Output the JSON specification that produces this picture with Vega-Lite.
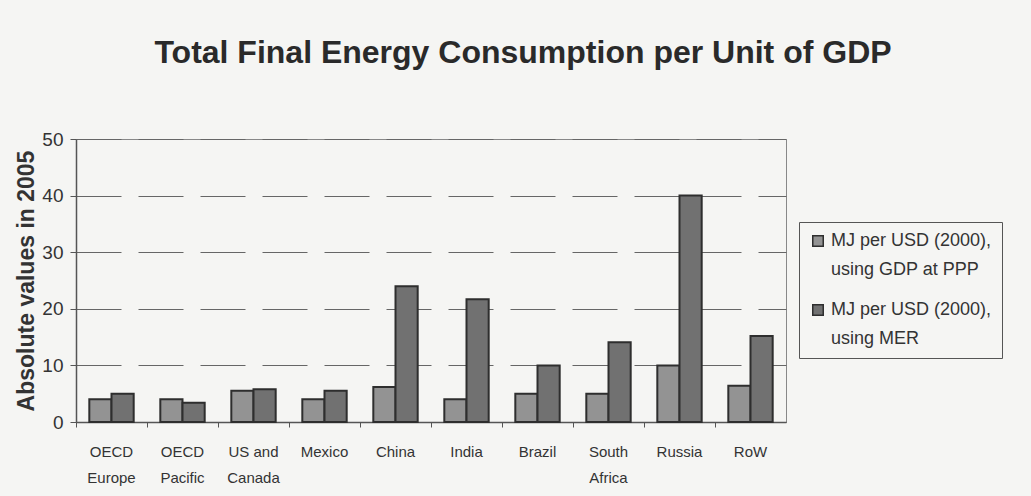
{
  "$schema": "https://vega.github.io/schema/vega-lite/v6.json",
  "autosize": "none",
  "width": 710,
  "height": 283,
  "padding": {"left": 76, "top": 139, "right": 245, "bottom": 74},
  "background": "#f5f5f3",
  "title": {
    "text": "Total Final Energy Consumption per Unit of GDP",
    "font": "Liberation Sans",
    "fontSize": 32,
    "fontWeight": "bold",
    "color": "#2a2a2a",
    "anchor": "middle",
    "frame": "group",
    "dx": 92,
    "baseline": "alphabetic",
    "offset": 35
  },
  "config": {
    "view": {"stroke": "#888", "strokeWidth": 1},
    "font": "Liberation Sans",
    "style": {"guide-label": {"lineHeight": 29}}
  },
  "data": {
    "values": [
      {"region": "OECD Europe", "series": "PPP", "value": 4.0},
      {"region": "OECD Europe", "series": "MER", "value": 5.0},
      {"region": "OECD Pacific", "series": "PPP", "value": 4.0},
      {"region": "OECD Pacific", "series": "MER", "value": 3.4},
      {"region": "US and Canada", "series": "PPP", "value": 5.5},
      {"region": "US and Canada", "series": "MER", "value": 5.8},
      {"region": "Mexico", "series": "PPP", "value": 4.0},
      {"region": "Mexico", "series": "MER", "value": 5.5},
      {"region": "China", "series": "PPP", "value": 6.2},
      {"region": "China", "series": "MER", "value": 24.0},
      {"region": "India", "series": "PPP", "value": 4.0},
      {"region": "India", "series": "MER", "value": 21.7},
      {"region": "Brazil", "series": "PPP", "value": 5.0},
      {"region": "Brazil", "series": "MER", "value": 10.0},
      {"region": "South Africa", "series": "PPP", "value": 5.0},
      {"region": "South Africa", "series": "MER", "value": 14.1},
      {"region": "Russia", "series": "PPP", "value": 10.0},
      {"region": "Russia", "series": "MER", "value": 40.0},
      {"region": "RoW", "series": "PPP", "value": 6.4},
      {"region": "RoW", "series": "MER", "value": 15.2}
    ]
  },
  "mark": {"type": "bar", "stroke": "#2e2e2e", "strokeWidth": 2},
  "encoding": {
    "x": {
      "field": "region",
      "type": "nominal",
      "sort": null,
      "scale": {"paddingInner": 0, "paddingOuter": 0},
      "axis": {
        "title": null,
        "labelAngle": 0,
        "labelFont": "Liberation Sans",
        "labelFontSize": 15,
        "labelColor": "#333",
        "labelPadding": 17,
        "labelLineHeight": 26,
        "labelExpr": "datum.label == 'OECD Europe' ? ['OECD', 'Europe'] : datum.label == 'OECD Pacific' ? ['OECD', 'Pacific'] : datum.label == 'US and Canada' ? ['US and', 'Canada'] : datum.label == 'South Africa' ? ['South', 'Africa'] : datum.label",
        "bandPosition": 0,
        "tickSize": 5,
        "tickColor": "#555",
        "domainColor": "#555",
        "domainWidth": 1.5
      }
    },
    "xOffset": {
      "field": "series",
      "type": "nominal",
      "sort": ["PPP", "MER"],
      "scale": {"paddingInner": 0, "paddingOuter": 0.6}
    },
    "y": {
      "field": "value",
      "type": "quantitative",
      "scale": {"domain": [0, 50]},
      "axis": {
        "title": "Absolute values in 2005",
        "titleFont": "Liberation Sans",
        "titleFontSize": 23,
        "titleFontWeight": "bold",
        "titleColor": "#333",
        "titlePadding": 3,
        "values": [0, 10, 20, 30, 40, 50],
        "labelFont": "Liberation Sans",
        "labelFontSize": 19,
        "labelColor": "#333",
        "labelPadding": 7,
        "labelLineHeight": 19,
        "tickSize": 6,
        "tickColor": "#555",
        "domainColor": "#555",
        "domainWidth": 1.5,
        "grid": true,
        "gridColor": "#666",
        "gridDash": [45, 17],
        "gridWidth": 1
      }
    },
    "fill": {
      "field": "series",
      "type": "nominal",
      "sort": ["PPP", "MER"],
      "scale": {"domain": ["PPP", "MER"], "range": ["#939393", "#717171"]},
      "legend": {
        "title": null,
        "orient": "none",
        "legendX": 723,
        "legendY": 83,
        "direction": "vertical",
        "strokeColor": "#555",
        "padding": 10,
        "fillColor": "#f5f5f3",
        "symbolType": "square",
        "symbolSize": 110,
        "symbolStrokeColor": "#2e2e2e",
        "symbolStrokeWidth": 1.5,
        "labelFont": "Liberation Sans",
        "labelFontSize": 18,
        "labelColor": "#333",
        "labelLimit": 300,
        "rowPadding": 22,
        "labelExpr": "datum.label == 'PPP' ? ['MJ per USD (2000),', 'using GDP at PPP'] : ['MJ per USD (2000),', 'using MER']"
      }
    }
  }
}
